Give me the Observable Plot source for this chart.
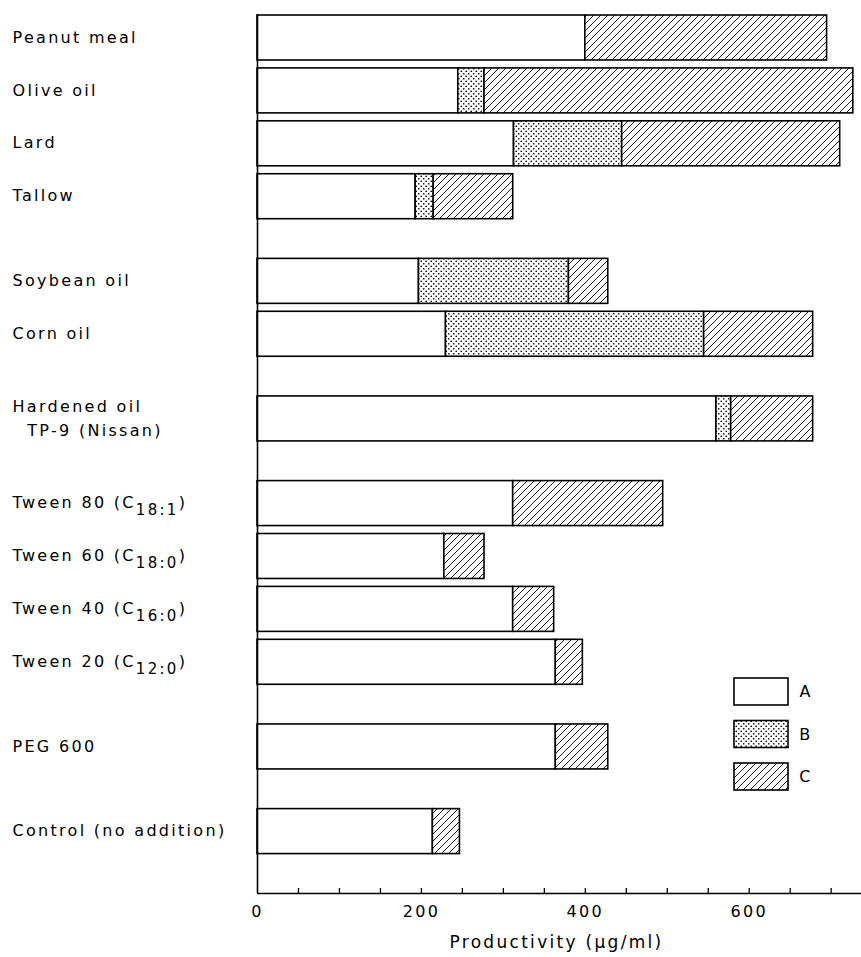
<!DOCTYPE html>
<html><head><meta charset="utf-8">
<script src="https://cdn.jsdelivr.net/npm/d3@7"></script>
<script src="https://cdn.jsdelivr.net/npm/@observablehq/plot@0.6"></script>
<style>
body{margin:0;background:#fff;}
#chart svg{overflow:visible;}
#chart text{letter-spacing:2.3px;}
</style>
</head><body>
<svg width="0" height="0" style="position:absolute">
<defs>
<pattern id="dots" patternUnits="userSpaceOnUse" width="5" height="5">
<rect width="5" height="5" fill="white"/>
<circle cx="1.25" cy="1.25" r="0.85" fill="black"/>
<circle cx="3.75" cy="3.75" r="0.85" fill="black"/>
</pattern>
<pattern id="hatch" patternUnits="userSpaceOnUse" width="7" height="7">
<rect width="7" height="7" fill="white"/>
<path d="M-1,1 L1,-1 M0,7 L7,0 M6,8 L8,6" stroke="black" stroke-width="0.9"/>
</pattern>
</defs></svg>
<div id="chart"></div>
<script>
// ---- data ----
const categories = [
  "Peanut meal", "Olive oil", "Lard", "Tallow",
  "Soybean oil", "Corn oil",
  "Hardened oil\n\u00A0\u00A0TP-9 (Nissan)",
  "Tween 80 (C18:1)", "Tween 60 (C18:0)", "Tween 40 (C16:0)", "Tween 20 (C12:0)",
  "PEG 600",
  "Control (no addition)"
];
const groupOf = [0,0,0,0, 1,1, 2, 3,3,3,3, 4, 5];
const seriesA = [400, 245, 313, 193, 197, 230, 560, 312, 228, 312, 364, 364, 214];
const seriesB = [  0,  32, 132,  22, 183, 315,  18,   0,   0,   0,   0,   0,   0];
const seriesC = [295, 450, 266,  97,  48, 133, 100, 183,  49,  50,  33,  64,  33];
const seriesNames = ["A", "B", "C"];
const xTickLabels = [0, 200, 400, 600];
const xMinorTicks = d3.range(0, 751, 50);
const xLabel = "Productivity (\u03BCg/ml)";

// ---- layout ----
const W = 861, H = 957, ML = 257, MR = 0, MT = 14, MB = 64;
const GROUP_GAP = 1.6, HALF = 0.425;
const fills = {A: "white", B: "url(#dots)", C: "url(#hatch)"};

const pos = [];
categories.forEach((c, i) => {
  pos.push(i === 0 ? 0 : pos[i - 1] + (groupOf[i] !== groupOf[i - 1] ? GROUP_GAP : 1));
});
const yTop = -0.444, yBottom = pos[pos.length - 1] + 1.17;

const segments = [];
categories.forEach((c, i) => {
  const vals = [seriesA[i], seriesB[i], seriesC[i]];
  let acc = 0;
  vals.forEach((v, k) => {
    if (v > 0) segments.push({cat: c, s: seriesNames[k], x1: acc, x2: acc + v, y1: pos[i] - HALF, y2: pos[i] + HALF});
    acc += v;
  });
});
const labelRows = categories.map((c, i) => ({cat: c, y: pos[i]}));

const chart = Plot.plot({
  width: W, height: H,
  marginLeft: ML, marginRight: MR, marginTop: MT, marginBottom: MB,
  style: {fontFamily: "DejaVu Sans, sans-serif", fontSize: "16px", background: "white", color: "black"},
  x: {domain: [0, 737], axis: null},
  y: {domain: [yTop, yBottom], reverse: true, axis: null},
  marks: [
    Plot.rect(segments, {x1: "x1", x2: "x2", y1: "y1", y2: "y2",
      fill: d => fills[d.s], stroke: "black", strokeWidth: 1.6}),
    Plot.ruleX([0], {stroke: "black", strokeWidth: 1.6}),
    Plot.ruleY([yBottom], {stroke: "black", strokeWidth: 1.6}),
    Plot.tickX(xMinorTicks.filter(d => d > 0), {x: d => d, stroke: "black", strokeWidth: 1.3,
      insetTop: (H - MB - MT) - 5}),
    Plot.axisX({ticks: xTickLabels, tickSize: 0, tickPadding: 12, tickFormat: d => String(d), fontSize: 16, label: null}),
    Plot.text([xLabel], {text: d => d, frameAnchor: "bottom", dy: 54, dx: -3, fontSize: 17}),
    Plot.text(labelRows, {y: "y", text: "cat", frameAnchor: "left", dx: -(ML - 12), dy: -3,
      textAnchor: "start", lineHeight: 1.5, fontSize: 16})
  ]
});

document.getElementById("chart").appendChild(chart);

// subscripts for Tween labels
d3.select(chart).selectAll("text").each(function() {
  const t = d3.select(this);
  const txt = t.text();
  const m = txt.match(/^(.*\(C)(\d+:\d+)\)$/);
  if (m) {
    const tsp = t.select("tspan");
    const target = tsp.empty() ? t : tsp;
    target.text(null);
    target.append("tspan").text(m[1]);
    target.append("tspan").attr("dy", "0.45em").attr("font-size", 15).text(m[2]);
    target.append("tspan").attr("dy", "-0.45em").text(")");
  }
});

// legend inside the plot area
const lg = d3.select(chart).append("g").attr("class", "legend");
seriesNames.forEach((s, k) => {
  const y0 = 678 + k * 42.5;
  lg.append("rect").attr("x", 734).attr("y", y0).attr("width", 54).attr("height", 27)
    .attr("fill", fills[s]).attr("stroke", "black").attr("stroke-width", 1.6);
  lg.append("text").attr("x", 806).attr("y", y0 + 13.5).attr("dy", "0.35em")
    .attr("font-size", 16).attr("fill", "black").text(s);
});
</script>
</body></html>
